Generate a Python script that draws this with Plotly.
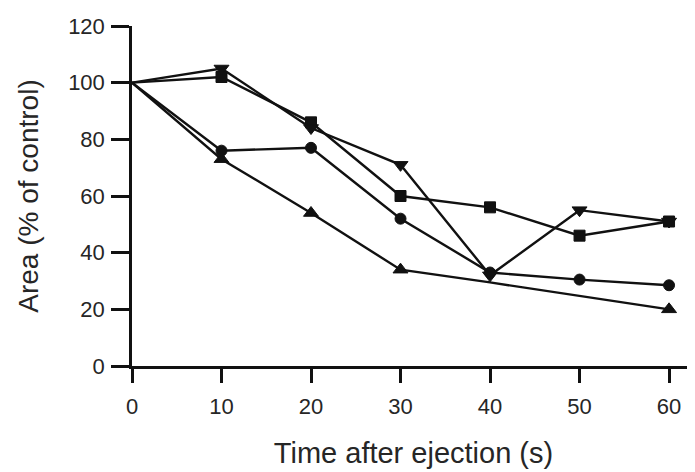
import plotly.graph_objects as go

time_s = [0, 10, 20, 30, 40, 50, 60]
tri_down = [100, 105, 84, 71, 32, 55, 51]
square = [100, 102, 86, 60, 56, 46, 51]
circle = [100, 76, 77, 52, 33, 30.5, 28.5]
tri_up_time = [0, 10, 20, 30, 40, 60]
tri_up = [100, 73, 54, 34, 29.5, 20]
tri_up_has_marker = [False, True, True, True, False, True]

x_ticks = [0, 10, 20, 30, 40, 50, 60]
y_ticks = [0, 20, 40, 60, 80, 100, 120]

INK = "#111111"
MS = 12


def sizes(n, s, mask=None):
    out = []
    for i in range(n):
        if i == 0 or (mask is not None and not mask[i]):
            out.append(0)
        else:
            out.append(s)
    return out


def series(x, y, symbol, size, mask=None):
    return go.Scatter(
        x=x, y=y, mode="lines+markers",
        line=dict(color=INK, width=2.4),
        marker=dict(symbol=symbol, color=INK, opacity=1,
                    size=sizes(len(x), size, mask),
                    line=dict(width=1, color=INK)),
        showlegend=False, cliponaxis=False)


fig = go.Figure()
fig.add_trace(series(tri_up_time, tri_up, "triangle-up", MS + 1, tri_up_has_marker))
fig.add_trace(series(time_s, circle, "circle", MS - 1))
fig.add_trace(series(time_s, square, "square", MS - 1))
fig.add_trace(series(time_s, tri_down, "triangle-down", MS + 1))

font_family = "Liberation Sans, Arial, Helvetica, sans-serif"
fig.update_layout(
    width=687, height=464,
    margin=dict(l=124, r=0, t=18, b=106),
    paper_bgcolor="white", plot_bgcolor="white",
    font=dict(family=font_family, color="#262626", size=22),
)
fig.update_xaxes(
    range=[0, 62.9], tickvals=x_ticks, ticktext=[str(v) for v in x_ticks],
    showgrid=False, zeroline=False, showline=True, linecolor=INK, linewidth=2.5,
    ticks="outside", ticklen=14, tickwidth=2.5, tickcolor=INK,
    tickfont=dict(size=22), ticklabelstandoff=5,
    title=dict(text="Time after ejection (s)", font=dict(size=29), standoff=25),
)
fig.update_yaxes(
    range=[0, 120], tickvals=y_ticks, ticktext=[str(v) for v in y_ticks],
    showgrid=False, zeroline=False, showline=True, linecolor=INK, linewidth=2.5,
    ticks="outside", ticklen=18, tickwidth=2.5, tickcolor=INK,
    tickfont=dict(size=22), ticklabelstandoff=2,
    title=dict(text="Area (% of control)", font=dict(size=28), standoff=22),
)

fig.write_html("out.html")
